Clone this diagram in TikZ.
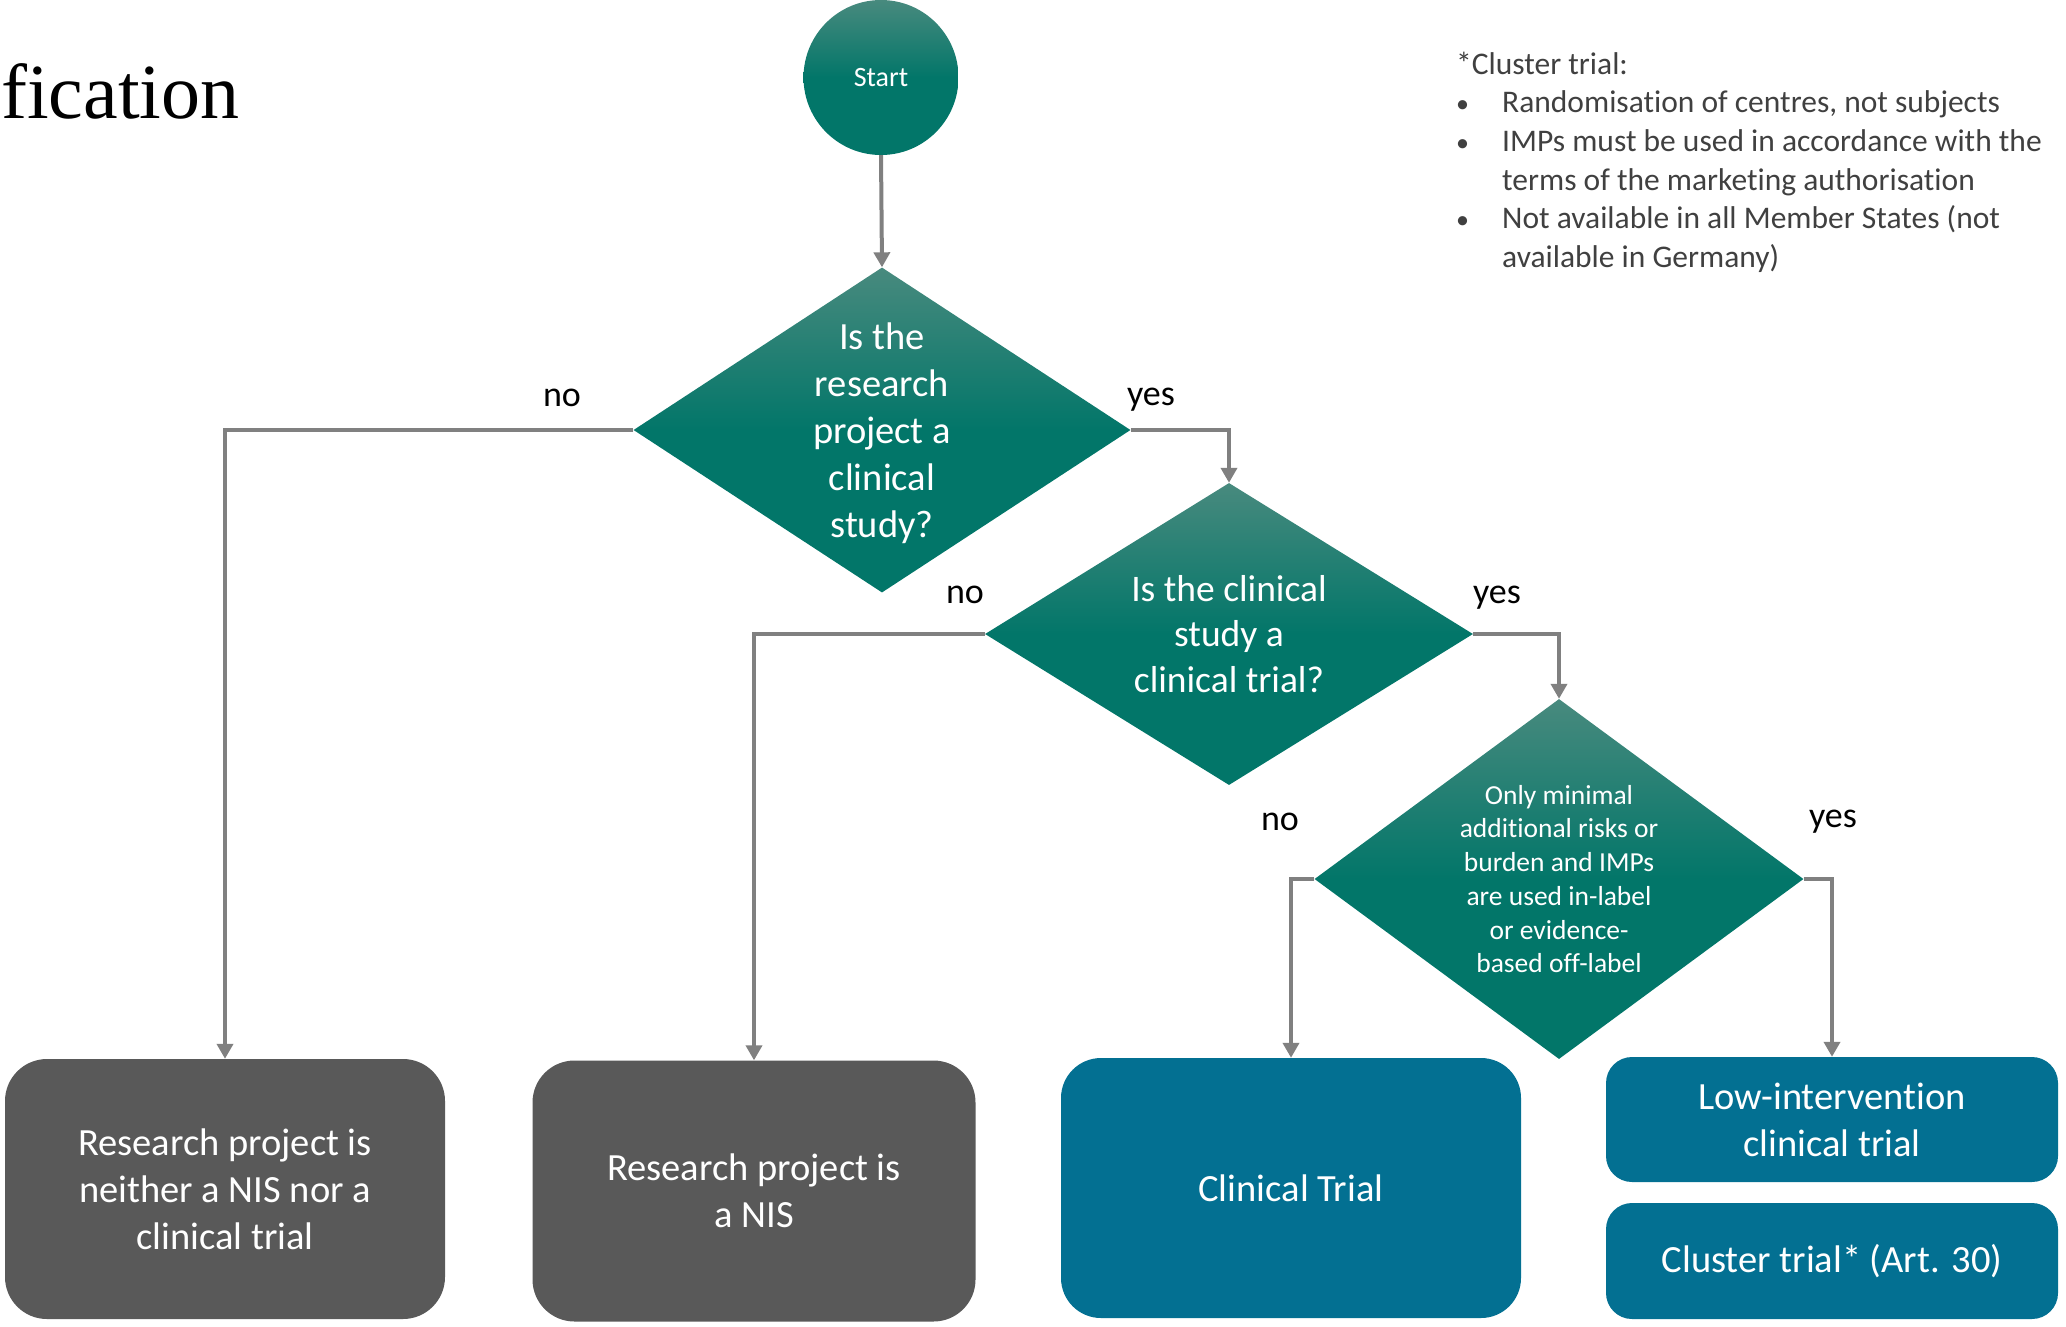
\documentclass[tikz,border=0pt]{standalone}
\usepackage{fontspec}
\setmainfont{Carlito}[Ligatures={NoCommon,NoContextual}]
\newfontfamily\titlefont{Liberation Serif}
\usetikzlibrary{shapes.geometric,arrows.meta}

\definecolor{tealdark}{RGB}{2,118,105}
\definecolor{teallight}{RGB}{72,138,126}
\definecolor{petrol}{RGB}{3,112,146}
\definecolor{slate}{RGB}{89,89,89}
\definecolor{wire}{RGB}{128,128,128}
\definecolor{notegray}{RGB}{64,64,64}

% teal fill that lightens towards the top
\pgfdeclareverticalshading{tealfade}{100bp}{color(0bp)=(tealdark); color(50bp)=(tealdark); color(75bp)=(teallight); color(100bp)=(teallight)}

% bullet for the footnote list
\newcommand\notebullet{{\fontsize{26}{38.6}\selectfont\textbullet}}

\begin{document}
\begin{tikzpicture}[x=1pt,y=-1pt,
  startnode/.style={circle, shading=tealfade, draw=none, minimum size=155, inner sep=0,
    text=white, font=\fontsize{28}{34}\selectfont},
  decision/.style={diamond, shading=tealfade, draw=none, inner sep=0},
  dtext/.style={text=white, align=center, inner sep=0},
  bigtext/.style={font=\fontsize{38.5}{47}\selectfont},
  smalltext/.style={font=\fontsize{27.5}{33.7}\selectfont},
  outcome/.style={rectangle, text=white, align=center, inner sep=0,
    font=\fontsize{38.5}{47}\selectfont},
  greybox/.style={outcome, fill=slate, rounded corners=42},
  bluebox/.style={outcome, fill=petrol},
  conn/.style={draw=wire, line width=4, -{Triangle[width=16,length=15]}},
  answer/.style={anchor=base, inner sep=0, text=black, font=\fontsize{36}{44}\selectfont},
]
\useasboundingbox (0,0) rectangle (2066,1326);

% heading fragment
\node[anchor=base west, inner sep=0, font=\titlefont\fontsize{78}{92}\selectfont] (title) at (1,118) {fication};

% start and decisions
\node[startnode] (start) at (881,77.5) {Start};
\node[decision, minimum width=497, minimum height=325,
  label={[dtext, bigtext, yshift=-3]center:Is the\\research\\project a\\clinical\\study?}] (d1) at (882,430) {};
\node[decision, minimum width=488, minimum height=302,
  label={[dtext, font=\fontsize{37.5}{45.5}\selectfont]center:Is the clinical\\study a\\clinical trial?}] (d2) at (1229,634) {};
\node[decision, minimum width=489, minimum height=360,
  label={[dtext, smalltext]center:Only minimal\\additional risks or\\burden and IMPs\\are used in-label\\or evidence-\\based off-label}] (d3) at (1559,879) {};

% outcomes
\node[greybox, minimum width=440, minimum height=260] (b1) at (225,1189) {Research project is\\neither a NIS nor a\\clinical trial};
\node[greybox, minimum width=443, minimum height=261] (b2) at (754,1191) {Research project is\\a NIS};
\node[bluebox, rounded corners=40, minimum width=460, minimum height=260] (b3) at (1291,1188) {Clinical Trial};
\node[bluebox, rounded corners=26, minimum width=452, minimum height=125] (b4) at (1832,1119.5) {Low-intervention\\clinical trial};
\node[bluebox, rounded corners=26, minimum width=452, minimum height=116] (b5) at (1832,1261) {Cluster trial* (Art. 30)};

% connectors
\draw[conn] (start.south) -- (d1.north);
\draw[conn] (d1.west) -| (b1.north);
\draw[conn] (d1.east) -| (d2.north);
\draw[conn] (d2.west) -| (b2.north);
\draw[conn] (d2.east) -| (d3.north);
\draw[conn] (d3.west) -| (b3.north);
\draw[conn] (d3.east) -| (b4.north);

% branch answers
\node[answer] (no1) at (562,406) {no};
\node[answer] (yes1) at (1151,405) {yes};
\node[answer] (no2) at (965,603) {no};
\node[answer] (yes2) at (1497,603) {yes};
\node[answer] (no3) at (1280,830) {no};
\node[answer] (yes3) at (1833,827) {yes};

% footnote on cluster trials
\node[anchor=north west, inner sep=0, text=notegray, font=\fontsize{31.5}{38.6}\selectfont] (note) at (1456,47)
{\begin{tabular}{@{}p{46pt}@{}l@{}}
\multicolumn{2}{@{}l@{}}{*Cluster trial:}\\
\notebullet & Randomisation of centres, not subjects\\
\notebullet & IMPs must be used in accordance with the\\
 & terms of the marketing authorisation\\
\notebullet & Not available in all Member States (not\\
 & available in Germany)
\end{tabular}};
\end{tikzpicture}
\end{document}
